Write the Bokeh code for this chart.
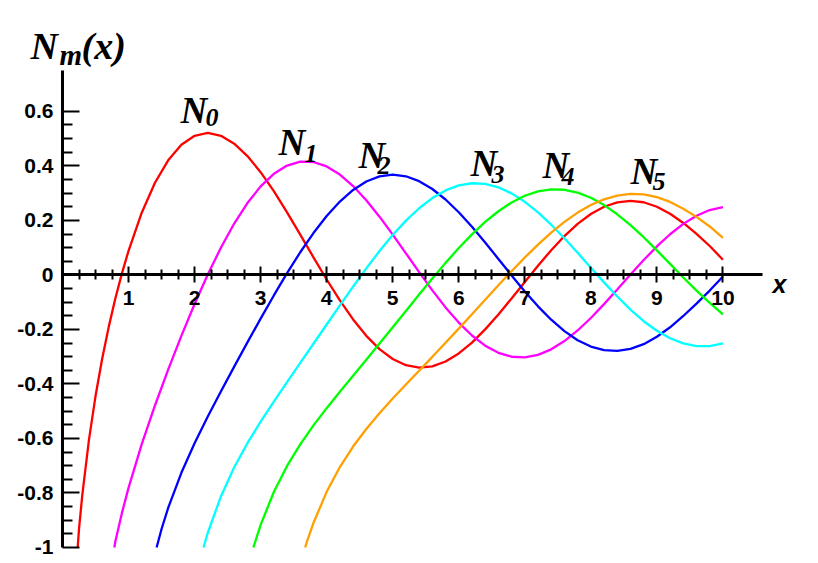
from bokeh.plotting import figure
from bokeh.models import FixedTicker, Label, Range1d
from bokeh.embed import file_html
from bokeh.resources import INLINE

# ---------------- data ----------------
GRID = [1.0, 1.2, 1.4, 1.6, 1.8, 2.0, 2.2, 2.4, 2.6, 2.8, 3.0, 3.2, 3.4, 3.6, 3.8,
        4.0, 4.2, 4.4, 4.6, 4.8, 5.0, 5.2, 5.4, 5.6, 5.8, 6.0, 6.2, 6.4, 6.6, 6.8,
        7.0, 7.2, 7.4, 7.6, 7.8, 8.0, 8.2, 8.4, 8.6, 8.8, 9.0, 9.2, 9.4, 9.6, 9.8, 10.0]

# each curve begins where it enters the plot at y = -1
x_n0 = [0.23, 0.25, 0.3, 0.4, 0.5, 0.6, 0.7, 0.8, 0.9] + GRID
n0 = [-1.0, -0.9316, -0.8073, -0.6060, -0.4445, -0.3085, -0.1907, -0.0868, 0.0056,
      0.0883, 0.2281, 0.3379, 0.4204, 0.4774, 0.5104, 0.5208, 0.5104, 0.4813, 0.4359,
      0.3769, 0.3071, 0.2296, 0.1477, 0.0645, -0.0169, -0.0937, -0.1633, -0.2235, -0.2723,
      -0.3085, -0.3313, -0.3402, -0.3354, -0.3177, -0.2882, -0.2483, -0.1999, -0.1452, -0.0864,
      -0.0259, 0.0339, 0.0907, 0.1424, 0.1872, 0.2235, 0.2501, 0.2662, 0.2715, 0.2665,
      0.2499, 0.2245, 0.1905, 0.1506, 0.1060, 0.0557]

x_n1 = [0.785, 0.8, 0.9] + GRID
n1 = [-1.0, -0.9781, -0.8731,
      -0.7812, -0.6211, -0.4791, -0.3476, -0.2237, -0.1070, 0.0015, 0.1005, 0.1884, 0.2635,
      0.3247, 0.3707, 0.4010, 0.4154, 0.4141, 0.3979, 0.3680, 0.3260, 0.2737, 0.2136,
      0.1479, 0.0792, 0.0101, -0.0568, -0.1192, -0.1750, -0.2223, -0.2596, -0.2858, -0.3002,
      -0.3027, -0.2934, -0.2731, -0.2428, -0.2039, -0.1581, -0.1072, -0.0535, 0.0011, 0.0544,
      0.1043, 0.1491, 0.1871, 0.2171, 0.2379, 0.2490]

x_n2 = [1.425, 1.5] + GRID[3:]
n2 = [-1.0, -0.9321,
      -0.8549, -0.7260, -0.6174, -0.5194, -0.4267, -0.3364, -0.2477, -0.1604, -0.0754, 0.0063,
      0.0831, 0.1534, 0.2159, 0.2689, 0.3115, 0.3425, 0.3613, 0.3677, 0.3618, 0.3439,
      0.3151, 0.2766, 0.2299, 0.1766, 0.1188, 0.0586, -0.0019, -0.0606, -0.1154, -0.1645,
      -0.2063, -0.2395, -0.2630, -0.2762, -0.2789, -0.2712, -0.2541, -0.2267, -0.1921, -0.1507,
      -0.1054, -0.0575, -0.0059]

x_n3 = [2.135] + GRID[6:]
n3 = [-1.0,
      -0.9459, -0.8117, -0.7059, -0.6174, -0.5386, -0.4650, -0.3936, -0.3231, -0.2526, -0.1820,
      -0.1119, -0.0428, 0.0241, 0.0875, 0.1463, 0.1991, 0.2446, 0.2819, 0.3100, 0.3283,
      0.3362, 0.3339, 0.3213, 0.2991, 0.2681, 0.2293, 0.1842, 0.1342, 0.0811, 0.0266,
      -0.0275, -0.0793, -0.1272, -0.1699, -0.2051, -0.2326, -0.2512, -0.2610, -0.2614, -0.2514]

x_n4 = [2.89] + GRID[10:]
n4 = [-1.0,
      -0.9168, -0.7965, -0.7009, -0.6216, -0.5522, -0.4889, -0.4288, -0.3699, -0.3111, -0.2519,
      -0.1921, -0.1321, -0.0721, -0.0131, 0.0441, 0.0984, 0.1488, 0.1942, 0.2335, 0.2658,
      0.2904, 0.3065, 0.3139, 0.3123, 0.3019, 0.2830, 0.2561, 0.2223, 0.1825, 0.1383,
      0.0900, 0.0404, -0.0096, -0.0577, -0.1025, -0.1449]

x_n5 = [3.675, 3.7] + GRID[14:]
n5 = [-1.0, -0.9796,
      -0.9099, -0.7958, -0.7049, -0.6297, -0.5651, -0.5073, -0.4537, -0.4023, -0.3514, -0.3006,
      -0.2492, -0.1971, -0.1442, -0.0912, -0.0383, 0.0136, 0.0638, 0.1113, 0.1552, 0.1945,
      0.2285, 0.2564, 0.2774, 0.2910, 0.2970, 0.2956, 0.2851, 0.2677, 0.2430, 0.2129,
      0.1777, 0.1355]

series_x = [x_n0, x_n1, x_n2, x_n3, x_n4, x_n5]
series_y = [n0, n1, n2, n3, n4, n5]
series_names = ["0", "1", "2", "3", "4", "5"]

x_ticks = [1, 2, 3, 4, 5, 6, 7, 8, 9, 10]
x_minor = [0.25, 0.5, 0.75, 1.25, 1.5, 1.75, 2.25, 2.5, 2.75, 3.25, 3.5, 3.75,
           4.25, 4.5, 4.75, 5.25, 5.5, 5.75, 6.25, 6.5, 6.75, 7.25, 7.5, 7.75,
           8.25, 8.5, 8.75, 9.25, 9.5, 9.75]
y_ticks = [-1.0, -0.8, -0.6, -0.4, -0.2, 0.0, 0.2, 0.4, 0.6]
y_minor = [-0.95, -0.9, -0.85, -0.75, -0.7, -0.65, -0.55, -0.5, -0.45, -0.35, -0.3,
           -0.25, -0.15, -0.1, -0.05, 0.05, 0.1, 0.15, 0.25, 0.3, 0.35, 0.45, 0.5, 0.55]
y_tick_labels = {-1.0: "-1", -0.8: "-0.8", -0.6: "-0.6", -0.4: "-0.4", -0.2: "-0.2",
                 0.0: "0", 0.2: "0.2", 0.4: "0.4", 0.6: "0.6"}

# ---------------- styling ----------------
colors = ["#ff0000", "#ff00ff", "#0000ff", "#00ffff", "#00ff00", "#ffa000"]
# label anchors (N origin, subscript origin) in data units
label_pos = [((1.787, 0.603), (2.165, 0.577)),
             ((3.271, 0.486), (3.664, 0.445)),
             ((4.482, 0.438), (4.770, 0.401)),
             ((6.178, 0.409), (6.496, 0.368)),
             ((7.268, 0.401), (7.556, 0.361)),
             ((8.601, 0.379), (8.934, 0.342))]

SERIF = "Liberation Serif"
SANS = "Liberation Sans"

# frame covers the whole figure; axes sit at x=0 / y=0 via fixed_location
p = figure(width=810, height=561, output_backend="svg", toolbar_location=None,
           x_range=Range1d(-0.9388, 11.326), y_range=Range1d(-1.0514, 1.0066),
           min_border_left=0, min_border_right=0, min_border_top=0,
           min_border_bottom=0)
p.outline_line_color = None
p.grid.visible = False
p.background_fill_color = "white"
p.border_fill_color = "white"

for xs, ys, c in zip(series_x, series_y, colors):
    p.line(xs, ys, line_color=c, line_width=2.3)

xa = p.xaxis[0]
xa.fixed_location = 0
xa.bounds = (0, 10.6)
xa.ticker = FixedTicker(ticks=x_ticks, minor_ticks=x_minor)
xa.axis_line_width = 3
xa.major_tick_line_width = 2
xa.minor_tick_line_width = 2
xa.major_tick_in = 8
xa.major_tick_out = 8
xa.minor_tick_in = 5
xa.minor_tick_out = 5
xa.major_label_standoff = 8
xa.major_label_text_font = SANS
xa.major_label_text_font_style = "bold"
xa.major_label_text_font_size = "21px"
xa.major_label_text_color = "black"

ya = p.yaxis[0]
ya.fixed_location = 0
ya.bounds = (-1, 0.75)
ya.ticker = FixedTicker(ticks=y_ticks, minor_ticks=y_minor)
ya.major_label_overrides = y_tick_labels
ya.axis_line_width = 3
ya.major_tick_line_width = 2
ya.minor_tick_line_width = 2
ya.major_tick_in = 17
ya.major_tick_out = 0
ya.minor_tick_in = 10
ya.minor_tick_out = 0
ya.major_label_standoff = 9
ya.major_label_text_font = SANS
ya.major_label_text_font_style = "bold"
ya.major_label_text_font_size = "21px"
ya.major_label_text_color = "black"


def add_label(x, y, text, font, size, style="bold italic"):
    p.add_layout(Label(x=x, y=y, text=text, text_font=font, text_font_size=size,
                       text_font_style=style, text_baseline="alphabetic",
                       text_align="left", text_color="black"))


for (npos, spos), name in zip(label_pos, series_names):
    add_label(npos[0], npos[1], "N", SERIF, "37px")
    add_label(spos[0], spos[1], name, SERIF, "26px")

# title N_m(x)
add_label(-0.485, 0.8415, "N", SERIF, "38px")
add_label(-0.045, 0.805, "m", SERIF, "29px")
add_label(0.288, 0.8415, "(x)", SERIF, "38px")
# axis name
add_label(10.751, -0.0316, "x", SANS, "25px")

open("out.html", "w").write(file_html(p, INLINE))
